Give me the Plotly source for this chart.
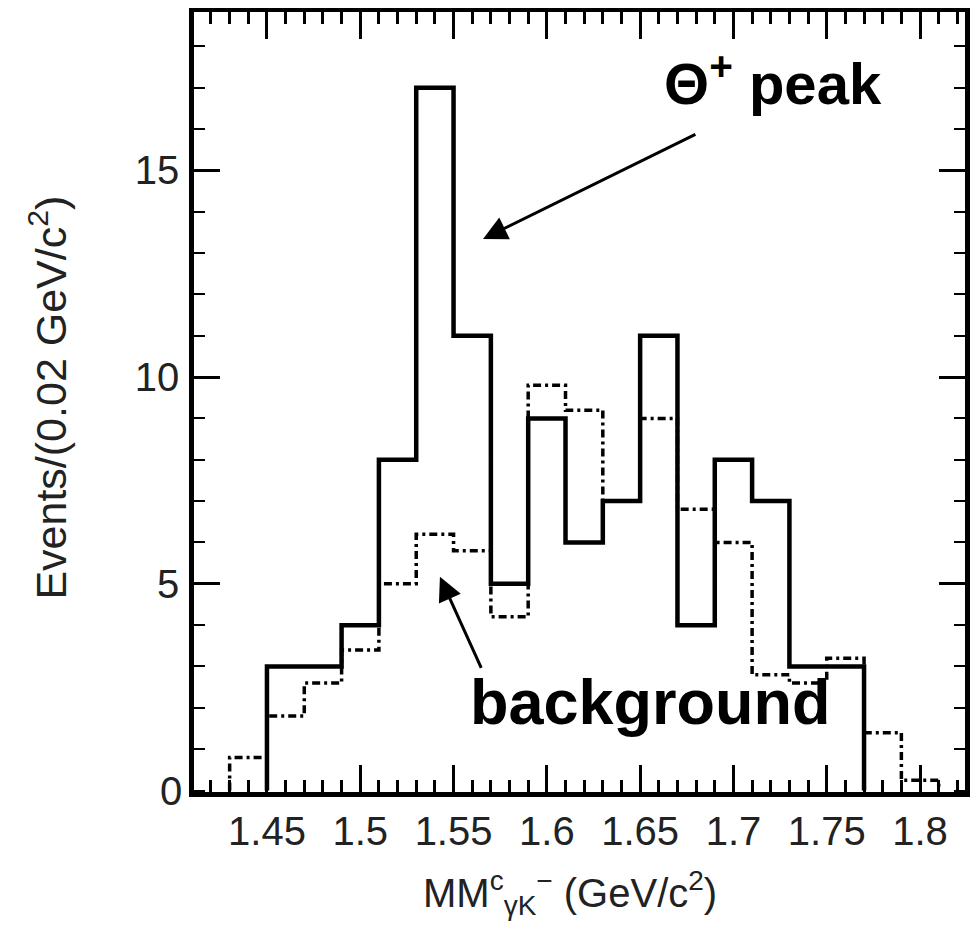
import plotly.graph_objects as go

# ---- data ----
bin_width = 0.02
signal_start = 1.45
signal_counts = [3, 3, 4, 8, 17, 11, 5, 9, 6, 7, 11, 4, 8, 7, 3, 3]
background_start = 1.43
background_counts = [0.8, 1.8, 2.6, 3.4, 5.0, 6.2, 5.8, 4.2, 9.8, 9.2, 7.0, 9.0,
                     6.8, 6.0, 2.8, 2.6, 3.2, 1.4, 0.25]

x_tick_first = 1.45      # first labelled x tick
x_tick_step = 0.05       # labels: 1.45, 1.5, ..., 1.8
y_tick_vals = [0, 5, 10, 15]
y_tick_text = ["0", "5", "10", "15"]


def step_xy(start, counts):
    edges = [round(start + bin_width * i, 4) for i in range(len(counts) + 1)]
    xs = [edges[0]] + edges
    ys = [0] + list(counts) + [0]
    return xs, ys


bx, by = step_xy(background_start, background_counts)
sx, sy = step_xy(signal_start, signal_counts)

FONT = "Liberation Sans, Arial, Helvetica, sans-serif"
TICK = "black"

fig = go.Figure()
fig.add_trace(go.Scatter(
    x=bx, y=by, mode="lines", line_shape="hv",
    line=dict(color="black", width=3.5, dash="8px,4px,3px,4px"),
    showlegend=False, hoverinfo="skip"))
fig.add_trace(go.Scatter(
    x=sx, y=sy, mode="lines", line_shape="hv",
    line=dict(color="black", width=4.5),
    showlegend=False, hoverinfo="skip"))

# arrows and labels
fig.add_annotation(x=1.5658, y=13.34, ax=1.6804, ay=15.89, xref="x", yref="y",
                   axref="x", ayref="y", showarrow=True, arrowhead=2,
                   arrowsize=1.6, arrowwidth=3, arrowcolor="black", text="")
fig.add_annotation(x=1.5427, y=5.17, ax=1.5652, ay=2.93, xref="x", yref="y",
                   axref="x", ayref="y", showarrow=True, arrowhead=2,
                   arrowsize=1.6, arrowwidth=3, arrowcolor="black", text="")
fig.add_annotation(x=1.721, y=17.2, xref="x", yref="y", showarrow=False,
                   text="<b>Θ<sup>+</sup> peak</b>",
                   font=dict(family=FONT, size=58, color="black"))
fig.add_annotation(x=1.6555, y=2.15, xref="x", yref="y", showarrow=False,
                   text="<b>background</b>",
                   font=dict(family=FONT, size=63, color="black"))

# axis titles
fig.add_annotation(x=0.4877, y=-0.13, xref="paper", yref="paper",
                   xanchor="center", yanchor="middle", showarrow=False,
                   text="MM<sup>c</sup><sub>γK</sub><sup>−</sup> (GeV/c<sup>2</sup>)",
                   font=dict(family=FONT, size=40, color="#222"))
fig.add_annotation(x=-0.189, y=0.506, xref="paper", yref="paper",
                   xanchor="center", yanchor="middle", showarrow=False,
                   textangle=-90,
                   text="Events/(0.02 GeV/c<sup>2</sup>)",
                   font=dict(family=FONT, size=43, color="#222"))

fig.update_xaxes(
    range=[1.4109, 1.8241], showline=True, linewidth=4.5, linecolor="black",
    mirror="ticks", ticks="inside", ticklen=27, tickwidth=3, tickcolor=TICK,
    tick0=x_tick_first, dtick=x_tick_step, tickmode="linear",
    minor=dict(tick0=1.41, dtick=0.01, ticks="inside", ticklen=12,
               tickwidth=2.5, tickcolor=TICK, showgrid=False),
    showgrid=False, zeroline=False, automargin=False,
    tickfont=dict(family=FONT, size=40, color="#222"),
)
fig.update_yaxes(
    range=[-0.036, 18.83], showline=True, linewidth=4.5, linecolor="black",
    mirror="ticks", ticks="inside", ticklen=26, tickwidth=2.5, tickcolor=TICK,
    tickmode="array", tickvals=y_tick_vals[1:], ticktext=y_tick_text[1:],
    minor=dict(tick0=0, dtick=1, ticks="inside", ticklen=11,
               tickwidth=2, tickcolor=TICK, showgrid=False),
    showgrid=False, zeroline=False, automargin=False, ticklabelstandoff=2,
    tickfont=dict(family=FONT, size=40, color="#222"),
)
# the "0" label sits at the frame corner, where no tick is drawn
fig.add_annotation(x=0, y=y_tick_vals[0], xref="paper", yref="y",
                   xanchor="right", yanchor="middle", xshift=-10,
                   showarrow=False, text=y_tick_text[0],
                   font=dict(family=FONT, size=40, color="#222"))

# the page body has an 8px default margin, so the figure is sized to fit
fig.update_layout(
    width=971, height=927,
    margin=dict(l=186, r=14, t=4, b=143),
    paper_bgcolor="white", plot_bgcolor="white",
)

fig.write_html("out.html")
